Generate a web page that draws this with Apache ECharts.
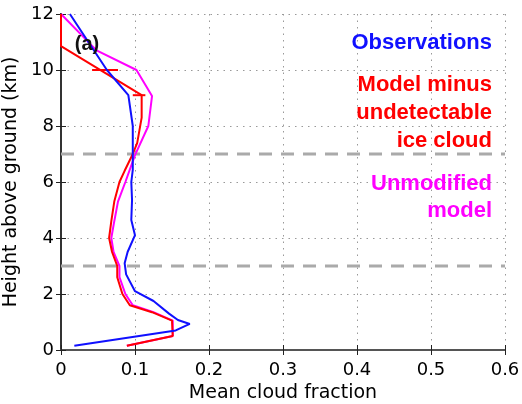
<!DOCTYPE html>
<html>
<head>
<meta charset="utf-8">
<script src="https://cdn.jsdelivr.net/npm/echarts@6/dist/echarts.min.js"></script>
<style>
  html, body { margin: 0; padding: 0; background: #fff; }
  #chart { width: 522px; height: 404px; }
</style>
</head>
<body>
<div id="chart"></div>
<script>
// Mean cloud fraction profiles against height above ground (km)
const xTicks = [0, 0.1, 0.2, 0.3, 0.4, 0.5, 0.6];
const yTicks = [0, 2, 4, 6, 8, 10, 12];

const obsHeight = [12, 10, 9.1, 8, 7, 6.43, 6, 5.36, 4.64, 4.1, 3.5, 3.1, 2.7, 2.1, 1.75, 1.3, 1.07, 0.93, 0.7, 0.15];
const obsFraction = [0.012, 0.062, 0.091, 0.097, 0.097, 0.097, 0.095, 0.096, 0.095, 0.1, 0.09, 0.086, 0.088, 0.1, 0.125, 0.146, 0.158, 0.174, 0.155, 0.018];

const minusHeight = [12, 10.85, 9.1, 8.3, 7.4, 7.0, 6.4, 6.0, 5.3, 4.6, 4.0, 3.5, 3.0, 2.6, 2.0, 1.6, 1.35, 1.05, 0.5, 0.15];
const minusFraction = [0, 0, 0.109, 0.109, 0.103, 0.097, 0.086, 0.079, 0.072, 0.068, 0.065, 0.069, 0.076, 0.076, 0.083, 0.093, 0.123, 0.15, 0.151, 0.089];

// horizontal bars on the "model minus" profile: [height, low, high]
const minusBars = [[10, 0.042, 0.077], [9.1, 0.097, 0.114]];

const unmodHeight = [12, 10.7, 10, 9.07, 8, 6.96, 6.0, 5.3, 4.6, 4.0, 3.5, 3.0, 2.6, 2.0, 1.6, 1.35, 1.05, 0.5, 0.15];
const unmodFraction = [0, 0.048, 0.102, 0.123, 0.118, 0.1, 0.087, 0.077, 0.072, 0.068, 0.071, 0.079, 0.079, 0.087, 0.097, 0.125, 0.151, 0.151, 0.089];

const dashedLevels = [3, 7];

const pairs = (xs, ys) => xs.map((x, i) => [x, ys[i]]);

const chart = echarts.init(document.getElementById('chart'), null, { renderer: 'canvas' });

const tickFont = { fontFamily: 'DejaVu Sans', fontSize: 18, color: '#000' };
const gridLine = { show: true, lineStyle: { color: '#999', type: [1.5, 5], width: 1 } };
const frameLine = { show: true, lineStyle: { color: '#222', width: 2 } };

const series = [];
dashedLevels.forEach(h => {
  series.push({
    type: 'line', xAxisIndex: 0, yAxisIndex: 0,
    data: [[xTicks[0], h], [xTicks[xTicks.length - 1], h]],
    symbol: 'none', silent: true, z: 1,
    lineStyle: { color: '#aaa', width: 3, type: [13, 9] }
  });
});
series.push({
  name: 'Unmodified model', type: 'line', data: pairs(unmodFraction, unmodHeight),
  symbol: 'none', z: 3, lineStyle: { color: '#ff00ff', width: 2 }
});
series.push({
  name: 'Model minus undetectable ice cloud', type: 'line', data: pairs(minusFraction, minusHeight),
  symbol: 'none', z: 4, lineStyle: { color: '#ff0000', width: 2 }
});
minusBars.forEach(b => {
  series.push({
    type: 'line', data: [[b[1], b[0]], [b[2], b[0]]],
    symbol: 'none', z: 4, lineStyle: { color: '#ff0000', width: 2 }
  });
});
series.push({
  name: 'Observations', type: 'line', data: pairs(obsFraction, obsHeight),
  symbol: 'none', z: 5, lineStyle: { color: '#1010ff', width: 2 }
});

const legendFont = 'bold 22px "Liberation Sans"';
const legendLines = [
  ['Observations', '#1010ff', 43],
  ['Model minus', '#ff0000', 85],
  ['undetectable', '#ff0000', 113],
  ['ice cloud', '#ff0000', 141],
  ['Unmodified', '#ff00ff', 184],
  ['model', '#ff00ff', 211]
];

chart.setOption({
  animation: false,
  backgroundColor: '#fff',
  grid: { left: 61, right: 17, top: 14, bottom: 54, containLabel: false, outerBoundsMode: 'none' },
  xAxis: [{
    type: 'value', min: 0, max: 0.6, interval: 0.1,
    name: 'Mean cloud fraction', nameLocation: 'middle', nameGap: 34,
    nameTextStyle: { fontFamily: 'DejaVu Sans', fontSize: 19, color: '#000' },
    axisLine: frameLine,
    axisTick: { show: true, inside: true, length: 5, lineStyle: { color: '#222' } },
    axisLabel: Object.assign({ margin: 11, formatter: v => (v === 0 ? '0' : v.toFixed(1)) }, tickFont),
    splitLine: gridLine
  }, {
    type: 'value', min: 0, max: 0.6, interval: 0.1, position: 'top',
    axisLine: { show: true, lineStyle: { color: '#555', width: 2 } },
    axisTick: { show: true, inside: true, length: 5, lineStyle: { color: '#222' } },
    axisLabel: { show: false }, splitLine: { show: false }
  }],
  yAxis: [{
    type: 'value', min: 0, max: 12, interval: 2,
    name: 'Height above ground (km)', nameLocation: 'middle', nameGap: 33,
    nameTextStyle: { fontFamily: 'DejaVu Sans', fontSize: 19, color: '#000' },
    axisLine: frameLine,
    axisTick: { show: true, inside: true, length: 5, lineStyle: { color: '#222' } },
    axisLabel: Object.assign({ margin: 7 }, tickFont),
    splitLine: gridLine
  }, {
    type: 'value', min: 0, max: 12, interval: 2, position: 'right',
    axisLine: { show: true, lineStyle: { color: '#333', width: 2 } },
    axisTick: { show: true, inside: true, length: 5, lineStyle: { color: '#222' } },
    axisLabel: { show: false }, splitLine: { show: false }
  }],
  series: series,
  graphic: [{
    type: 'text', z: 10,
    style: { text: '(a)', fill: '#111', x: 87, y: 44, align: 'center', verticalAlign: 'middle', font: 'bold 20px "Liberation Sans"' }
  }].concat(legendLines.map(l => ({
    type: 'text', z: 10,
    style: {
      text: l[0], fill: l[1], x: 492, y: l[2],
      align: 'right', verticalAlign: 'middle', font: legendFont
    }
  })))
});
</script>
</body>
</html>
